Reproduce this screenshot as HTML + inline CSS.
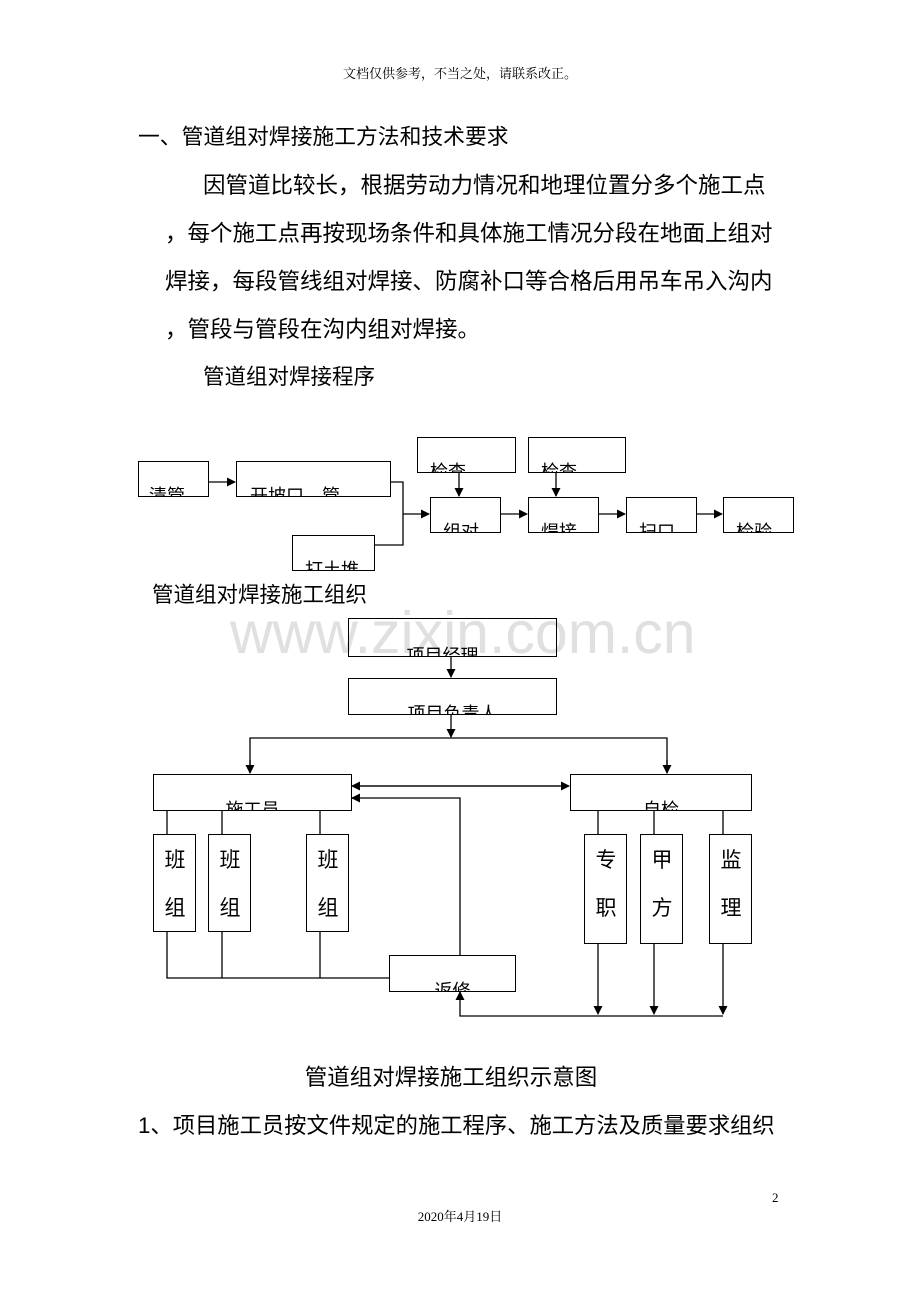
<!DOCTYPE html>
<html><head><meta charset="utf-8"><style>
body{margin:0;background:#fff;}
#p{position:relative;width:920px;height:1302px;overflow:hidden;font-family:"Liberation Sans","Noto Sans CJK SC",sans-serif;color:#000;}
.t{position:absolute;white-space:nowrap;line-height:1;}
.b{position:absolute;border:1.3px solid #000;box-sizing:border-box;overflow:hidden;}
.b span{position:absolute;left:0;right:0;bottom:-9px;font-size:18px;line-height:18px;white-space:nowrap;}
.v{position:absolute;font-size:21px;line-height:48px;text-align:center;width:42px;}
</style></head><body><div id="p">
<div class="t" style="left:0;width:920px;text-align:center;top:67px;font-size:13px;font-family:'Liberation Serif','Noto Serif CJK SC',serif;">文档仅供参考，不当之处，请联系改正。</div>
<div class="t" style="left:138px;top:126px;font-size:21.8px;">一、管道组对焊接施工方法和技术要求</div>
<div class="t" style="left:203px;top:175px;font-size:22.5px;">因管道比较长，根据劳动力情况和地理位置分多个施工点</div>
<div class="t" style="left:165px;top:223px;font-size:22.5px;">，每个施工点再按现场条件和具体施工情况分段在地面上组对</div>
<div class="t" style="left:165px;top:271px;font-size:22.5px;">焊接，每段管线组对焊接、防腐补口等合格后用吊车吊入沟内</div>
<div class="t" style="left:165px;top:319px;font-size:22.5px;">，管段与管段在沟内组对焊接。</div>
<div class="t" style="left:203px;top:367px;font-size:21.5px;">管道组对焊接程序</div>
<div class="t" style="left:152px;top:585px;font-size:21.5px;">管道组对焊接施工组织</div>
<div class="t" style="left:230px;top:604px;font-size:59px;color:#e0e0e0;">www.zixin.com.cn</div>

<svg style="position:absolute;left:0;top:0" width="920" height="1302">
<defs><marker id="a" markerWidth="9" markerHeight="9" refX="8" refY="4.5" orient="auto" markerUnits="userSpaceOnUse"><path d="M0,0L9,4.5L0,9z"/></marker></defs>
<g stroke="#000" stroke-width="1.3" fill="none">
<line x1="208" y1="482" x2="235" y2="482" marker-end="url(#a)"/>
<polyline points="390,482 403,482 403,545 374,545"/>
<line x1="403" y1="514" x2="429" y2="514" marker-end="url(#a)"/>
<line x1="459" y1="472" x2="459" y2="496" marker-end="url(#a)"/>
<line x1="556" y1="472" x2="556" y2="496" marker-end="url(#a)"/>
<line x1="500" y1="514" x2="527" y2="514" marker-end="url(#a)"/>
<line x1="598" y1="514" x2="625" y2="514" marker-end="url(#a)"/>
<line x1="696" y1="514" x2="722" y2="514" marker-end="url(#a)"/>

<line x1="451" y1="656" x2="451" y2="677" marker-end="url(#a)"/>
<line x1="451" y1="714" x2="451" y2="737" marker-end="url(#a)"/>
<polyline points="250,773 250,738 667,738 667,773" />
<line x1="250" y1="760" x2="250" y2="773" marker-end="url(#a)"/>
<line x1="667" y1="760" x2="667" y2="773" marker-end="url(#a)"/>
<line x1="360" y1="786" x2="569" y2="786" marker-end="url(#a)"/>
<line x1="560" y1="786" x2="352" y2="786" marker-end="url(#a)"/>
<polyline points="460,955 460,798 360,798"/>
<line x1="360" y1="798" x2="352" y2="798" marker-end="url(#a)"/>
<line x1="167" y1="810" x2="167" y2="834"/><line x1="222" y1="810" x2="222" y2="834"/><line x1="320" y1="810" x2="320" y2="834"/>
<polyline points="167,931 167,978 389,978"/><line x1="222" y1="931" x2="222" y2="978"/><line x1="320" y1="931" x2="320" y2="978"/>
<line x1="598" y1="810" x2="598" y2="834"/><line x1="654" y1="810" x2="654" y2="834"/><line x1="723" y1="810" x2="723" y2="834"/>
<line x1="598" y1="943" x2="598" y2="1014" marker-end="url(#a)"/>
<line x1="654" y1="943" x2="654" y2="1014" marker-end="url(#a)"/>
<line x1="723" y1="943" x2="723" y2="1014" marker-end="url(#a)"/>
<polyline points="723,1016 460,1016 460,992"/>
<line x1="460" y1="1000" x2="460" y2="992" marker-end="url(#a)"/>
</g></svg>

<div class="b" style="left:138px;top:461px;width:71px;height:36px;"><span style="padding-left:10px">清管</span></div>
<div class="b" style="left:236px;top:461px;width:155px;height:36px;"><span style="padding-left:13px">开坡口　管</span></div>
<div class="b" style="left:292px;top:535px;width:83px;height:36px;"><span style="padding-left:12px">打土堆</span></div>
<div class="b" style="left:417px;top:437px;width:99px;height:36px;"><span style="padding-left:12px">检查</span></div>
<div class="b" style="left:528px;top:437px;width:98px;height:36px;"><span style="padding-left:12px">检查</span></div>
<div class="b" style="left:430px;top:497px;width:71px;height:36px;"><span style="padding-left:12px">组对</span></div>
<div class="b" style="left:528px;top:497px;width:71px;height:36px;"><span style="padding-left:12px">焊接</span></div>
<div class="b" style="left:626px;top:497px;width:71px;height:36px;"><span style="padding-left:12px">扫口</span></div>
<div class="b" style="left:723px;top:497px;width:71px;height:36px;"><span style="padding-left:12px">检验</span></div>

<div class="b" style="left:348px;top:618px;width:209px;height:39px;"><span style="text-align:center;padding-right:20px">项目经理</span></div>
<div class="b" style="left:348px;top:678px;width:209px;height:37px;"><span style="text-align:center">项目负责人</span></div>
<div class="b" style="left:153px;top:774px;width:199px;height:37px;"><span style="text-align:center">施工员</span></div>
<div class="b" style="left:570px;top:774px;width:182px;height:37px;"><span style="text-align:center">自检</span></div>
<div class="b" style="left:389px;top:955px;width:127px;height:37px;"><span style="text-align:center">返修</span></div>

<div class="b" style="left:153px;top:834px;width:43px;height:98px;"><div class="v" style="top:2px">班<br>组</div></div>
<div class="b" style="left:208px;top:834px;width:43px;height:98px;"><div class="v" style="top:2px">班<br>组</div></div>
<div class="b" style="left:306px;top:834px;width:43px;height:98px;"><div class="v" style="top:2px">班<br>组</div></div>
<div class="b" style="left:584px;top:834px;width:43px;height:110px;"><div class="v" style="top:2px">专<br>职</div></div>
<div class="b" style="left:640px;top:834px;width:43px;height:110px;"><div class="v" style="top:2px">甲<br>方</div></div>
<div class="b" style="left:709px;top:834px;width:43px;height:110px;"><div class="v" style="top:2px">监<br>理</div></div>

<div class="t" style="left:0;width:902px;text-align:center;top:1067px;font-size:22.5px;">管道组对焊接施工组织示意图</div>
<div class="t" style="left:138px;top:1115px;font-size:22.3px;">1、项目施工员按文件规定的施工程序、施工方法及质量要求组织</div>
<div class="t" style="left:772px;top:1191px;font-size:13px;font-family:'Liberation Serif',serif;">2</div>
<div class="t" style="left:0;width:920px;text-align:center;top:1210px;font-size:13px;font-family:'Liberation Serif','Noto Serif CJK SC',serif;">2020年4月19日</div>
</div></body></html>
